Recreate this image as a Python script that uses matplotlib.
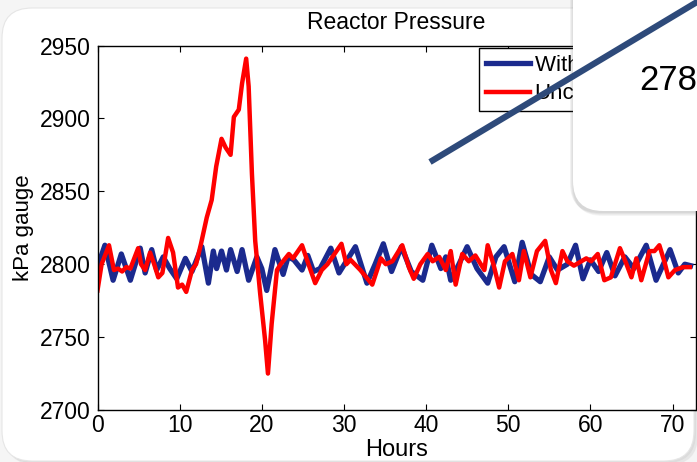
import matplotlib
matplotlib.use('Agg')
import matplotlib.pyplot as plt
from matplotlib.patches import FancyBboxPatch
from matplotlib.lines import Line2D
from matplotlib.transforms import IdentityTransform

# controlled run (blue) at peaks / troughs
hours_ctrl = [0.0, 0.9, 1.9, 2.9, 4.0, 5.2, 5.8, 6.6, 7.2, 8.0, 8.8, 9.65, 10.7, 11.5,
              12.7, 13.5, 14.1, 14.5, 15.1, 15.7, 16.2, 17.0, 17.6, 18.4, 19.4, 20.0,
              20.6, 21.6, 22.6, 23.2, 23.9, 24.9, 25.6, 26.3, 27.1, 28.4, 29.4, 30.4,
              31.4, 32.8, 33.8, 34.8, 35.8, 37.0, 38.2, 39.6, 40.7, 41.8, 42.4, 43.0,
              44.0, 45.0, 46.2, 47.5, 48.5, 49.5, 50.8, 51.7, 52.8, 53.9, 55.0, 56.0,
              57.2, 58.2, 59.1, 60.0, 61.0, 62.0, 63.0, 64.2, 65.3, 66.8, 68.0, 69.7,
              70.7, 71.5, 72.2]
kpa_ctrl = [2798, 2813, 2789, 2807, 2789, 2811, 2794, 2810, 2796, 2805, 2797, 2790, 2804, 2795,
            2812, 2787, 2809, 2797, 2809, 2796, 2810, 2795, 2810, 2789, 2805, 2797,
            2782, 2810, 2793, 2805, 2803, 2796, 2806, 2795, 2797, 2811, 2794, 2803,
            2812, 2787, 2800, 2814, 2795, 2812, 2795, 2789, 2813, 2797, 2805, 2789,
            2800, 2812, 2797, 2787, 2805, 2812, 2788, 2815, 2793, 2788, 2805, 2796,
            2800, 2813, 2790, 2803, 2795, 2808, 2792, 2805, 2797, 2813, 2789, 2810,
            2794, 2800, 2799]

# uncontrolled run (red)
hours_unc = [0.0, 0.5, 1.4, 2.0, 2.5, 3.0, 3.5, 4.0, 4.95, 5.3, 5.8, 6.4, 6.9, 7.4, 7.9,
             8.6, 9.2, 9.8, 10.3, 10.8, 11.5, 12.0, 12.6, 13.3, 13.9, 14.45, 15.1, 15.6,
             16.2, 16.6, 17.2, 17.6, 18.1, 18.4, 18.8, 19.2, 19.8, 20.4, 20.75, 21.2,
             21.85, 22.3, 23.3, 23.8, 24.9, 25.5, 26.5, 27.3, 28.0, 29.7, 30.3, 30.8,
             32.0, 33.45, 34.5, 35.1, 35.9, 37.1, 37.9, 38.5, 39.3, 40.2, 40.8, 41.6,
             42.4, 43.0, 43.6, 44.4, 45.2, 46.0, 47.1, 47.5, 48.2, 48.9, 49.6, 50.5,
             51.3, 51.9, 52.7, 53.5, 54.5, 55.2, 55.8, 56.6, 57.2, 58.0, 59.5, 60.1,
             60.9, 61.7, 62.5, 63.6, 64.4, 65.0, 65.6, 66.2, 67.2, 67.8, 68.4, 69.0,
             69.5, 70.3, 71.3, 72.1]
kpa_unc = [2782, 2800, 2813, 2796, 2797, 2795, 2798, 2797, 2811, 2800, 2796, 2808, 2800, 2791, 2794,
           2818, 2808, 2784, 2786, 2781, 2796, 2800, 2814, 2832, 2844, 2867, 2886, 2880,
           2875, 2901, 2906, 2924, 2941, 2922, 2862, 2816, 2780, 2748, 2725, 2759,
           2796, 2800, 2807, 2804, 2813, 2803, 2787, 2796, 2800, 2814, 2800, 2803,
           2796, 2786, 2804, 2800, 2802, 2813, 2798, 2790, 2800, 2807, 2802, 2805,
           2796, 2809, 2786, 2807, 2802, 2806, 2796, 2813, 2800, 2784, 2802, 2807,
           2789, 2809, 2791, 2809, 2816, 2796, 2787, 2809, 2802, 2799, 2804, 2802,
           2807, 2789, 2791, 2811, 2800, 2791, 2804, 2789, 2809, 2809, 2813, 2802,
           2791, 2796, 2798, 2798]

series_names = ['With MPC', 'Uncontrolled']
x_ticks = [0, 10, 20, 30, 40, 50, 60, 70]
y_ticks = [2700, 2750, 2800, 2850, 2900, 2950]
callout_text = '278'

W, H = 697, 462
plt.rcParams['font.family'] = ['Liberation Sans', 'DejaVu Sans']


def rbox(x0, y0, x1, y1, r, **kw):
    # rounded box given in picture pixels (origin top left)
    return FancyBboxPatch((x0, H - y1), x1 - x0, y1 - y0,
                          boxstyle='round,pad=0,rounding_size=%g' % r,
                          transform=IdentityTransform(), **kw)


fig = plt.figure(figsize=(W / 100, H / 100), dpi=100, facecolor='#f5f5f5')

# slide panel behind the chart
for i, a in enumerate([0.10, 0.10, 0.12]):
    fig.add_artist(rbox(2 + 2 * i, 8 + 2 * i, 694 + 2 * i, 461 + 2 * i, 30,
                        facecolor='#808080', edgecolor='none', alpha=a, zorder=-3))
fig.add_artist(rbox(2, 8, 694, 461, 30, facecolor='white', edgecolor='#e6e6e6',
                    linewidth=0.8, zorder=-2))

ax = fig.add_axes([97.5 / W, (H - 410) / H, (695.5 - 97.5) / W, (410 - 45.5) / H])
ax.plot(hours_ctrl, kpa_ctrl, color='#1B2A8E', linewidth=3.8, label=series_names[0],
        solid_joinstyle='round')
ax.plot(hours_unc, kpa_unc, color='#FF0000', linewidth=3.2, label=series_names[1],
        solid_joinstyle='round')

ax.set_xlim(0, 72.8)
ax.set_ylim(2700, 2950)
ax.set_xticks(x_ticks)
ax.set_yticks(y_ticks)
ax.tick_params(direction='in', top=True, right=True, length=4, width=0.8,
               labelsize=16.5)
ax.tick_params(axis='x', pad=3)
ax.tick_params(axis='y', pad=5)
for s in ax.spines.values():
    s.set_linewidth(1.0)
ax.set_title('Reactor Pressure', fontsize=16.5, pad=12)
ax.set_xlabel('Hours', fontsize=17, labelpad=1)
ax.set_ylabel('kPa gauge', fontsize=16, labelpad=4)

leg = ax.legend(loc='upper left', bbox_to_anchor=(479 / W, 1 - 48 / H),
                bbox_transform=fig.transFigure, fontsize=16, fancybox=False,
                edgecolor='black', framealpha=1, borderaxespad=0, borderpad=0.3,
                handlelength=2.0, handletextpad=0.2, labelspacing=0.35)
leg.get_frame().set_linewidth(1.0)

# callout box in the top right corner
for i, a in enumerate([0.06, 0.06, 0.07, 0.08]):
    fig.add_artist(rbox(573 - i, -40, 760, 212 + 4 - i, 30,
                        facecolor='#606060', edgecolor='none', alpha=a, zorder=4))
fig.add_artist(rbox(573, -40, 760, 211, 30, facecolor='white', edgecolor='none', zorder=5))
fig.text(639, H - 80, callout_text, transform=IdentityTransform(), fontsize=25,
         ha='left', va='center', zorder=6)

# pointer line
fig.add_artist(Line2D([430, 712], [H - 162, H + 7], transform=IdentityTransform(),
                      color='#2E4A7A', linewidth=4.5, solid_capstyle='butt', zorder=7))

fig.savefig('out.png', dpi=100, facecolor=fig.get_facecolor())
